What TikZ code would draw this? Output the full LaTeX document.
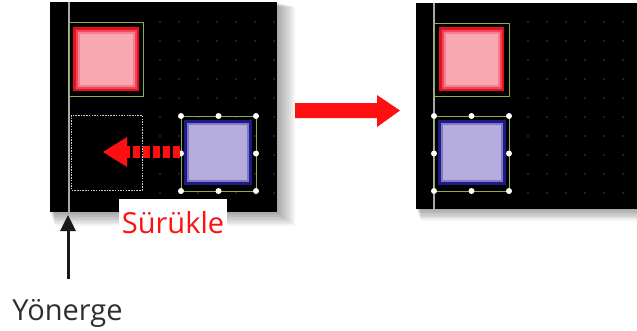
\documentclass[tikz,border=0pt]{standalone}
\usepackage{fontspec}
\setmainfont{Open Sans}
\usetikzlibrary{arrows.meta}
\definecolor{guide}{HTML}{A8A8A8}
\definecolor{selgreen}{HTML}{8CB050}
\definecolor{redsq}{HTML}{E8101C}
\definecolor{redmid}{HTML}{F04858}
\definecolor{redlt}{HTML}{F48090}
\definecolor{pinksq}{HTML}{F8A8B0}
\definecolor{navy}{HTML}{1C1C88}
\definecolor{lav}{HTML}{B4ACDC}
\definecolor{lavmid}{HTML}{8078C0}
\definecolor{dragred}{HTML}{FF1010}
\definecolor{griddot}{HTML}{444444}
\tikzset{
  panelshadow/.style={fill=black,opacity=0.045},
  selframe/.style={draw=selgreen,line width=0.9pt},
  handle/.style={circle,fill=white,inner sep=0pt,minimum size=6pt},
  guideline/.style={draw=guide,line width=1.5pt},
  label/.style={font=\fontsize{29}{34}\selectfont,inner sep=1pt},
}
\newcommand{\redsquare}[4]{%
  \fill[redsq] (#1,#2) rectangle (#3,#4);
  \fill[redmid] (#1+2.5,#2+2.5) rectangle (#3-2.5,#4-2.5);
  \fill[redlt] (#1+4.5,#2+4.5) rectangle (#3-4.5,#4-4.5);
  \fill[pinksq] (#1+6.5,#2+6.5) rectangle (#3-6.5,#4-6.5);}
\newcommand{\bluesquare}[4]{%
  \fill[navy] (#1,#2) rectangle (#3,#4);
  \fill[lavmid] (#1+3,#2+3) rectangle (#3-3,#4-3);
  \fill[lav] (#1+5,#2+5) rectangle (#3-5,#4-5);}
\newcommand{\handles}[4]{%
  \pgfmathsetmacro{\hmx}{(#1+#3)/2}%
  \pgfmathsetmacro{\hmy}{(#2+#4)/2}%
  \foreach \hx in {#1,\hmx,#3}{
    \node[handle] at (\hx,#2) {};
    \node[handle] at (\hx,#4) {};}
  \node[handle] at (#1,\hmy) {};
  \node[handle] at (#3,\hmy) {};}
\begin{document}
\begin{tikzpicture}[x=1pt,y=-1pt]
\useasboundingbox (0,0) rectangle (637,330);
% shadows
\foreach \i in {1,...,9}{
  \fill[panelshadow] (50+\i*0.5,2+\i*0.5) rectangle (277+\i*2,212+\i*1.5);
  \fill[panelshadow] (416+\i*0.5,3+\i*0.5) rectangle (640,209+\i*1.3);
}
% left panel
\fill[black] (50,2) rectangle (277,212);
\foreach \gx in {160,179,...,275}{
  \foreach \gy in {22,41,...,208}{
    \fill[griddot] (\gx,\gy) circle (0.9);}}
\draw[guideline] (69,2) -- (69,212);
\draw[selframe] (69,22) rectangle (143,96);
\redsquare{73}{27}{139}{91}
\draw[white!60!gray,line width=0.6pt,dash pattern=on 1.5pt off 1.2pt] (71,115) rectangle (142,190);
% dragged blue square
\draw[selframe] (181,116) rectangle (256,191);
\bluesquare{184}{120}{252}{185}
\handles{181}{116}{256}{191}
% dashed drag arrow
\draw[dragred,line width=12pt,dash pattern=on 7pt off 3pt] (180,152) -- (127,152);
\fill[dragred] (103,152) -- (127,137) -- (127,167) -- cycle;
% Sürükle label
\fill[white] (119,199) rectangle (227,237);
\node[label,text=dragred,anchor=base] (surukle) at (173,233) {Sürükle};
% guide annotation
\coordinate (gbot) at (68,215);
\node[label,text=black!82,anchor=base] (yonerge) at (67.5,320) {Yönerge};
\draw[black!90,line width=3pt,-{Triangle[length=16pt,width=15pt]}] (68,279) -- (gbot);
% big arrow
\fill[dragred] (295,103) -- (377,103) -- (377,95) -- (400,110.5) -- (377,127) -- (377,118) -- (295,118) -- cycle;
% right panel
\fill[black] (416,3) rectangle (637,209);
\foreach \gx in {528,547,...,637}{
  \foreach \gy in {22,41,...,205}{
    \fill[griddot] (\gx,\gy) circle (0.9);}}
\draw[guideline] (434,3) -- (434,209);
\draw[selframe] (434,23) rectangle (509,96);
\redsquare{439}{27}{504}{91}
\draw[selframe] (434,116) rectangle (509,191);
\bluesquare{438}{120}{506}{185}
\handles{434}{116}{509}{191}
\end{tikzpicture}
\end{document}
